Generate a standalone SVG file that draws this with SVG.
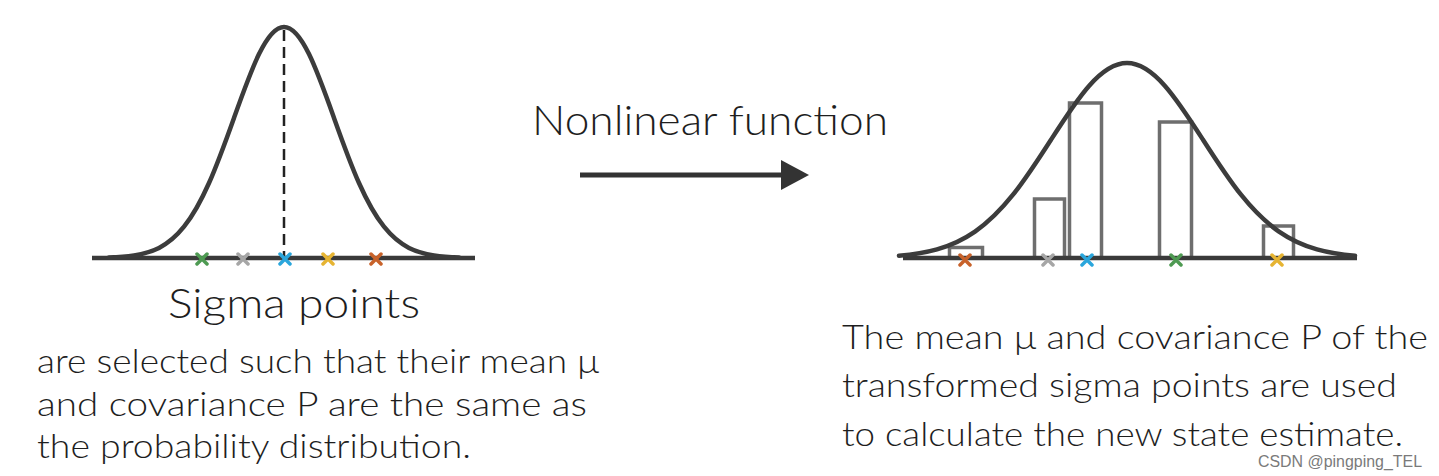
<svg xmlns="http://www.w3.org/2000/svg" width="1439" height="476" viewBox="0 0 1439 476">
  <defs>
    <style>
      .curve { fill: none; stroke: #3c3c3c; stroke-width: 4.5; stroke-linejoin: round; stroke-linecap: round; }
      .axis { stroke: #3a3a3a; stroke-width: 4.5; stroke-linecap: butt; }
      .bar { fill: none; stroke: #6e6e6e; stroke-width: 3.5; }
      .mean { stroke: #222; stroke-width: 2.5; stroke-dasharray: 11 6; }
      .x { fill: none; stroke-width: 3.5; stroke-linecap: round; }
      .green { stroke: #4e9a52; }
      .gray { stroke: #a6a6a6; }
      .blue { stroke: #2aa6dc; }
      .yellow { stroke: #e6b432; }
      .orange { stroke: #c8622a; }
      .t { font-family: Lato, "Liberation Sans", sans-serif; font-weight: 300; fill: #1e1e1e; }
      .title { font-size: 42px; }
      .body { font-size: 34px; }
      .wm { font-family: "Liberation Sans", Arial, sans-serif; font-size: 16px; fill: #7a7a7a; }
      .arrow { stroke: #333; stroke-width: 5; fill: none; }
    </style>
    <marker id="arrowhead" markerUnits="userSpaceOnUse" viewBox="0 0 28 30" markerWidth="28" markerHeight="30" refX="0" refY="15" orient="auto">
      <path d="M0,0 L28,15 L0,30 Z" fill="#333"/>
    </marker>
    <path id="cross" d="M-5,-5 L5,5 M5,-5 L-5,5"/>
  </defs>

  <rect x="0" y="0" width="1439" height="476" fill="#ffffff"/>

  <!-- Left distribution -->
  <g id="left-distribution">
    <line class="axis" x1="92" y1="258" x2="475" y2="258"/>
    <line class="mean" x1="284" y1="30" x2="284" y2="256"/>
    <path class="curve" d="M109,257.5 C117.33,257.2 125.67,256.68 134,255.4 C142.33,254.12 150.67,252.13 159,247.9 C167.33,243.67 175.67,237.12 184,226.7 C192.33,216.28 200.67,201.75 209,183 C217.33,164.25 225.67,141.25 234,117.9 C242.33,94.55 250.67,71.09 259,54.1 C267.33,37.11 275.67,27 284,27 C292.33,27 300.67,37.11 309,54.1 C317.33,71.09 325.67,94.55 334,117.9 C342.33,141.25 350.67,164.25 359,183 C367.33,201.75 375.67,216.28 384,226.7 C392.33,237.12 400.67,243.67 409,247.9 C417.33,252.13 425.67,254.12 434,255.4 C442.33,256.68 450.67,257.2 459,257.5"/>
  </g>

  <g id="left-sigma-points">
    <use href="#cross" class="x green" x="202" y="259"/>
    <use href="#cross" class="x gray" x="243" y="259"/>
    <use href="#cross" class="x blue" x="285" y="259"/>
    <use href="#cross" class="x yellow" x="328" y="259"/>
    <use href="#cross" class="x orange" x="376" y="259"/>
  </g>

  <!-- Right distribution -->
  <g id="right-distribution">
    <g id="bars">
      <rect class="bar" x="949.5" y="247.5" width="33" height="10.5"/>
      <rect class="bar" x="1034.5" y="199" width="30" height="59"/>
      <rect class="bar" x="1069.5" y="103" width="32" height="155"/>
      <rect class="bar" x="1159.5" y="122" width="32" height="136"/>
      <rect class="bar" x="1263.5" y="226" width="30" height="32"/>
    </g>
    <line class="axis" x1="903" y1="258" x2="1357" y2="258"/>
    <path class="curve" d="M899,255.8 C911.67,254.72 924.33,252.97 937,249.4 C949.67,245.83 962.33,240.39 975,231.6 C987.67,222.81 1000.33,210.53 1013,194.7 C1025.67,178.87 1038.33,159.41 1051,139.7 C1063.67,119.99 1076.33,100.24 1089,85.9 C1101.67,71.56 1114.33,63 1127,63 C1139.67,63 1152.33,71.56 1165,85.9 C1177.67,100.24 1190.33,119.99 1203,139.7 C1215.67,159.41 1228.33,178.87 1241,194.7 C1253.67,210.53 1266.33,222.81 1279,231.6 C1291.67,240.39 1304.33,245.83 1317,249.4 C1329.67,252.97 1342.33,254.72 1355,255.8"/>
  </g>

  <g id="right-sigma-points">
    <use href="#cross" class="x orange" x="965" y="260"/>
    <use href="#cross" class="x gray" x="1048" y="260"/>
    <use href="#cross" class="x blue" x="1087" y="260"/>
    <use href="#cross" class="x green" x="1176" y="260"/>
    <use href="#cross" class="x yellow" x="1277" y="260"/>
  </g>

  <!-- Connector -->
  <g id="connectors">
    <line class="arrow" x1="580" y1="175" x2="781" y2="175" marker-end="url(#arrowhead)"/>
  </g>

  <!-- Labels -->
  <g id="label-nonlinear">
    <text class="t title" x="532" y="135" textLength="356" lengthAdjust="spacingAndGlyphs">Nonlinear function</text>
  </g>

  <g id="label-sigma">
    <text class="t title" x="168" y="318" textLength="252" lengthAdjust="spacingAndGlyphs">Sigma points</text>
    <text class="t body" x="37" y="373" textLength="562" lengthAdjust="spacingAndGlyphs">are selected such that their mean μ</text>
    <text class="t body" x="37" y="416" textLength="550" lengthAdjust="spacingAndGlyphs">and covariance P are the same as</text>
    <text class="t body" x="37" y="458" textLength="434" lengthAdjust="spacingAndGlyphs">the probability distribution.</text>
  </g>

  <g id="label-result">
    <text class="t body" x="842" y="349" textLength="586" lengthAdjust="spacingAndGlyphs">The mean μ and covariance P of the</text>
    <text class="t body" x="842" y="397" textLength="555" lengthAdjust="spacingAndGlyphs">transformed sigma points are used</text>
    <text class="t body" x="842" y="446" textLength="561" lengthAdjust="spacingAndGlyphs">to calculate the new state estimate.</text>
  </g>

  <g id="watermark">
    <text class="wm" x="1258" y="467" textLength="164" lengthAdjust="spacingAndGlyphs">CSDN @pingping_TEL</text>
  </g>
</svg>
